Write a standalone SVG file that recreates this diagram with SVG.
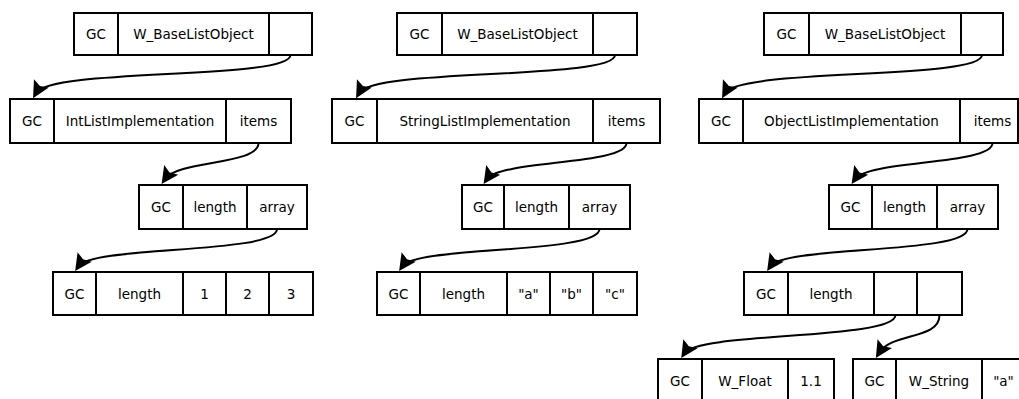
<svg xmlns="http://www.w3.org/2000/svg" width="1019" height="399" viewBox="0 0 1019 399">
  <style>
    .cell { fill: #ffffff; stroke: #000000; stroke-width: 2; }
    .lbl { font-family: "DejaVu Sans", "Liberation Sans", sans-serif; font-size: 13.5px; fill: #000000; text-anchor: middle; }
    .link { fill: none; stroke: #000000; stroke-width: 2; marker-end: url(#head); }
  </style>
  <defs>
    <marker id="head" markerUnits="userSpaceOnUse" markerWidth="30" markerHeight="30" refX="0" refY="0" orient="auto" overflow="visible">
      <path d="M6,0 L-11,-8.5 L-8,0 L-11,8.5 Z" fill="#000000"/>
    </marker>
  </defs>
  <rect width="1019" height="399" fill="#ffffff"/>

  <!-- Column 1: int list -->
  <g id="int-base">
    <rect class="cell" x="74" y="13" width="44" height="42"/>
    <rect class="cell" x="118" y="13" width="151" height="42"/>
    <rect class="cell" x="269" y="13" width="43" height="42"/>
    <text class="lbl" x="96" y="39">GC</text>
    <text class="lbl" x="193.5" y="39">W_BaseListObject</text>
  </g>
  <g id="int-impl">
    <rect class="cell" x="10" y="99" width="44" height="44"/>
    <rect class="cell" x="54" y="99" width="172" height="44"/>
    <rect class="cell" x="226" y="99" width="65" height="44"/>
    <text class="lbl" x="32" y="126">GC</text>
    <text class="lbl" x="140" y="126">IntListImplementation</text>
    <text class="lbl" x="258.5" y="126">items</text>
  </g>
  <g id="int-items">
    <rect class="cell" x="139" y="185" width="44" height="44"/>
    <rect class="cell" x="183" y="185" width="64" height="44"/>
    <rect class="cell" x="247" y="185" width="60" height="44"/>
    <text class="lbl" x="161" y="212">GC</text>
    <text class="lbl" x="215" y="212">length</text>
    <text class="lbl" x="277" y="212">array</text>
  </g>
  <g id="int-array">
    <rect class="cell" x="53" y="272" width="43" height="43"/>
    <rect class="cell" x="96" y="272" width="87" height="43"/>
    <rect class="cell" x="183" y="272" width="43" height="43"/>
    <rect class="cell" x="226" y="272" width="43" height="43"/>
    <rect class="cell" x="269" y="272" width="44" height="43"/>
    <text class="lbl" x="74.5" y="298.5">GC</text>
    <text class="lbl" x="139.5" y="298.5">length</text>
    <text class="lbl" x="204.5" y="298.5">1</text>
    <text class="lbl" x="247.5" y="298.5">2</text>
    <text class="lbl" x="291" y="298.5">3</text>
  </g>

  <!-- Column 2: string list -->
  <g id="str-base">
    <rect class="cell" x="397" y="13" width="45" height="42"/>
    <rect class="cell" x="442" y="13" width="151" height="42"/>
    <rect class="cell" x="593" y="13" width="44" height="42"/>
    <text class="lbl" x="419.5" y="39">GC</text>
    <text class="lbl" x="517.5" y="39">W_BaseListObject</text>
  </g>
  <g id="str-impl">
    <rect class="cell" x="332" y="99" width="45" height="44"/>
    <rect class="cell" x="377" y="99" width="216" height="44"/>
    <rect class="cell" x="593" y="99" width="67" height="44"/>
    <text class="lbl" x="354.5" y="126">GC</text>
    <text class="lbl" x="485" y="126">StringListImplementation</text>
    <text class="lbl" x="626.5" y="126">items</text>
  </g>
  <g id="str-items">
    <rect class="cell" x="462" y="185" width="42" height="44"/>
    <rect class="cell" x="504" y="185" width="65" height="44"/>
    <rect class="cell" x="569" y="185" width="61" height="44"/>
    <text class="lbl" x="483" y="212">GC</text>
    <text class="lbl" x="536.5" y="212">length</text>
    <text class="lbl" x="599.5" y="212">array</text>
  </g>
  <g id="str-array">
    <rect class="cell" x="377" y="272" width="43" height="43"/>
    <rect class="cell" x="420" y="272" width="87" height="43"/>
    <rect class="cell" x="507" y="272" width="43" height="43"/>
    <rect class="cell" x="550" y="272" width="43" height="43"/>
    <rect class="cell" x="593" y="272" width="44" height="43"/>
    <text class="lbl" x="398.5" y="298.5">GC</text>
    <text class="lbl" x="463.5" y="298.5">length</text>
    <text class="lbl" x="528.5" y="298.5">"a"</text>
    <text class="lbl" x="571.5" y="298.5">"b"</text>
    <text class="lbl" x="615" y="298.5">"c"</text>
  </g>

  <!-- Column 3: object list -->
  <g id="obj-base">
    <rect class="cell" x="764" y="13" width="45" height="42"/>
    <rect class="cell" x="809" y="13" width="152" height="42"/>
    <rect class="cell" x="961" y="13" width="42" height="42"/>
    <text class="lbl" x="786.5" y="39">GC</text>
    <text class="lbl" x="885" y="39">W_BaseListObject</text>
  </g>
  <g id="obj-impl">
    <rect class="cell" x="699" y="99" width="44" height="44"/>
    <rect class="cell" x="743" y="99" width="217" height="44"/>
    <rect class="cell" x="960" y="99" width="58" height="44"/>
    <text class="lbl" x="721" y="126">GC</text>
    <text class="lbl" x="851.5" y="126">ObjectListImplementation</text>
    <text class="lbl" x="992.5" y="126">items</text>
  </g>
  <g id="obj-items">
    <rect class="cell" x="829" y="185" width="43" height="44"/>
    <rect class="cell" x="872" y="185" width="65" height="44"/>
    <rect class="cell" x="937" y="185" width="61" height="44"/>
    <text class="lbl" x="850.5" y="212">GC</text>
    <text class="lbl" x="904.5" y="212">length</text>
    <text class="lbl" x="967.5" y="212">array</text>
  </g>
  <g id="obj-array">
    <rect class="cell" x="744" y="272" width="44" height="43"/>
    <rect class="cell" x="788" y="272" width="86" height="43"/>
    <rect class="cell" x="874" y="272" width="43" height="43"/>
    <rect class="cell" x="917" y="272" width="45" height="43"/>
    <text class="lbl" x="766" y="298.5">GC</text>
    <text class="lbl" x="831" y="298.5">length</text>
  </g>
  <g id="float-obj">
    <rect class="cell" x="658" y="359" width="44" height="48"/>
    <rect class="cell" x="702" y="359" width="86" height="48"/>
    <rect class="cell" x="788" y="359" width="46" height="48"/>
    <text class="lbl" x="680" y="385.5">GC</text>
    <text class="lbl" x="745" y="385.5">W_Float</text>
    <text class="lbl" x="811" y="385.5">1.1</text>
  </g>
  <g id="string-obj">
    <rect class="cell" x="853" y="359" width="43" height="48"/>
    <rect class="cell" x="896" y="359" width="86" height="48"/>
    <rect class="cell" x="982" y="359" width="43" height="48"/>
    <text class="lbl" x="874.5" y="385.5">GC</text>
    <text class="lbl" x="939" y="385.5">W_String</text>
    <text class="lbl" x="1003.5" y="385.5">"a"</text>
  </g>

  <!-- Pointers: from a field's bottom edge to the GC header of the target -->
  <g id="connectors">
    <path class="link" d="M290.5,55 C290.5,80 50,68 36,93"/>
    <path class="link" d="M258.5,143 C258.5,165 178,160 165,179"/>
    <path class="link" d="M277,229 C277,254 92,246 78.5,266"/>
    <path class="link" d="M615,55 C615,80 373,68 359,93"/>
    <path class="link" d="M626.5,143 C626.5,165 500,160 487,179"/>
    <path class="link" d="M599.5,229 C599.5,254 416,246 402.5,266"/>
    <path class="link" d="M982,55 C982,80 739,68 725,93"/>
    <path class="link" d="M992.5,143 C992.5,165 868,160 855,179"/>
    <path class="link" d="M967.5,229 C967.5,254 784,246 770.5,266"/>
    <path class="link" d="M895.5,315 C895.5,340 698,332 684.5,353"/>
    <path class="link" d="M939.5,315 C939.5,340 892,332 879,353"/>
  </g>
</svg>
